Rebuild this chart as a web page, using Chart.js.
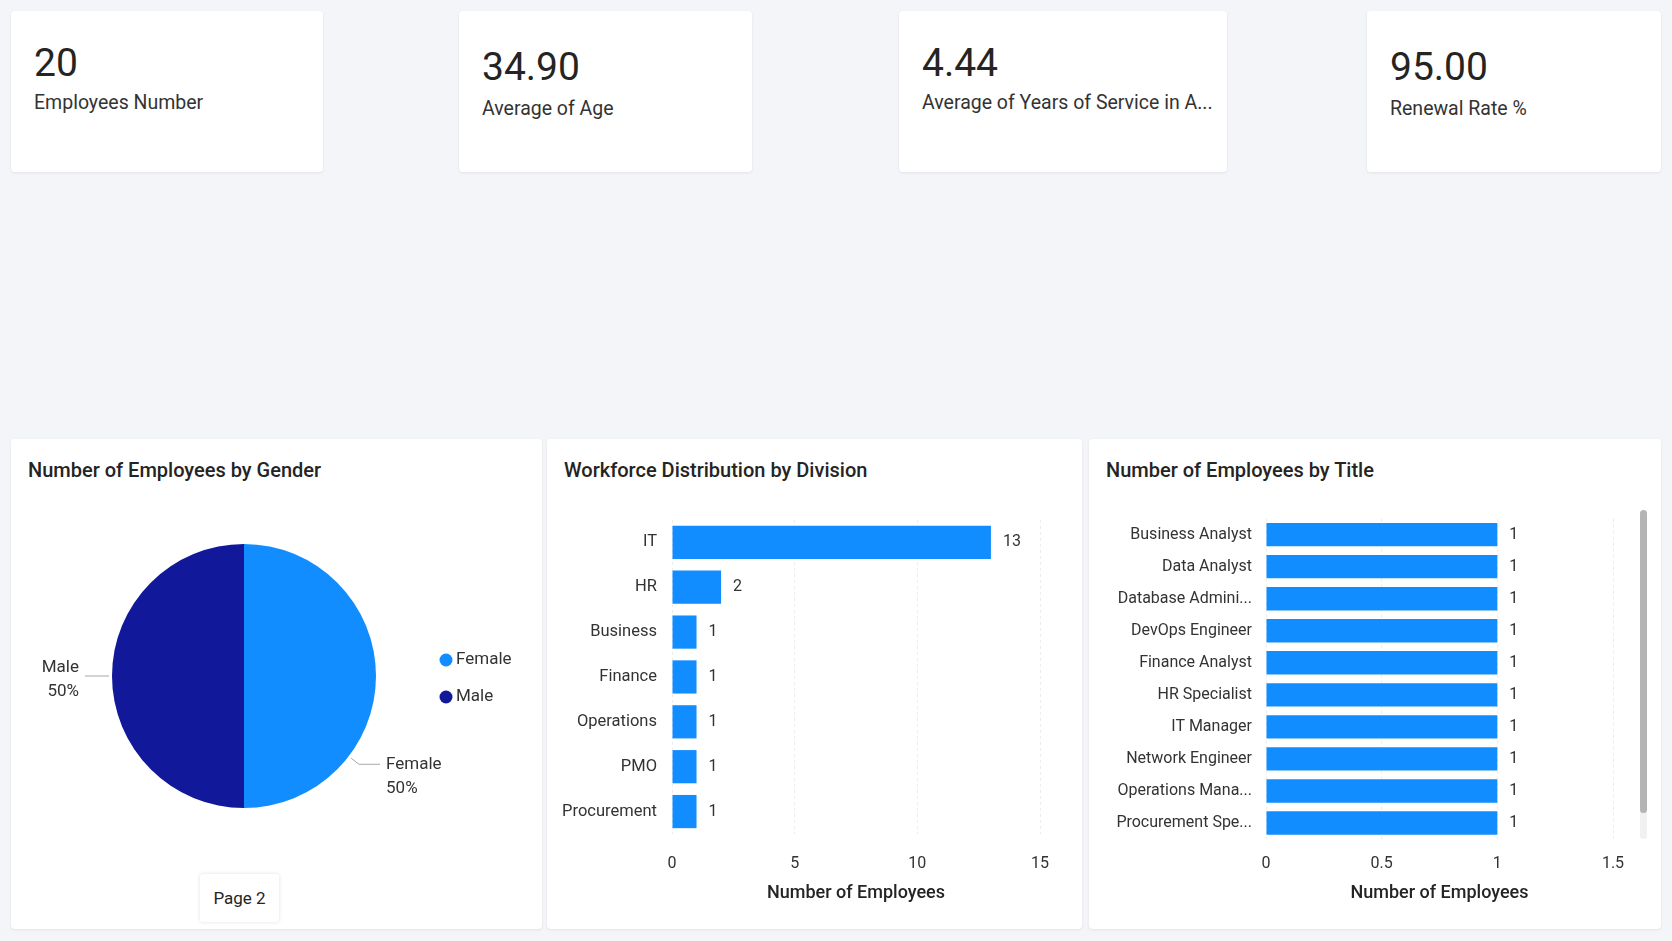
<!DOCTYPE html>
<html lang="en">
<head>
<meta charset="UTF-8" />
<title>HR Dashboard</title>
<script src="https://cdn.jsdelivr.net/npm/chart.js"></script>
<style>
    body {
        margin: 0;
        width: 1672px;
        height: 941px;
        background: #f3f5f9;
        font-family: Roboto, "Open Sans", sans-serif;
        color: #252423;
        position: relative;
        overflow: hidden;
    }
    .card {
        position: absolute;
        background: #fff;
        border-radius: 4px;
        box-shadow: 0 1px 3px rgba(0, 0, 0, 0.08);
    }
    .kpi-value {
        position: absolute;
        font-size: 39px;
        line-height: 40px;
        color: #252423;
    }
    .kpi-label {
        position: absolute;
        font-size: 19.5px;
        line-height: 22px;
        color: #333;
        white-space: nowrap;
    }
    .panel-title {
        position: absolute;
        left: 17px;
        top: 19px;
        font-size: 20px;
        font-weight: 500;
        color: #252423;
    }
    .chart-box {
        position: absolute;
    }
    .page-btn {
        position: absolute;
        left: 200px;
        top: 874px;
        width: 79px;
        height: 48px;
        background: #fff;
        box-shadow: 0 0 4px rgba(0, 0, 0, 0.12);
        border-radius: 3px;
        font-size: 17px;
        line-height: 48px;
        text-align: center;
        color: #252423;
    }
    .scroll-track {
        position: absolute;
        left: 1640px;
        top: 510px;
        width: 7px;
        height: 329px;
        border-radius: 4px;
        background: #f1f1f1;
    }
    .scroll-thumb {
        position: absolute;
        left: 1640px;
        top: 510px;
        width: 7px;
        height: 303px;
        border-radius: 4px;
        background: #b4b4b4;
    }
</style>
</head>
<body>

<div id="kpis"></div>

<div class="card" style="left:11px; top:439px; width:531px; height:490px;">
    <div class="panel-title">Number of Employees by Gender</div>
</div>
<div class="card" style="left:547px; top:439px; width:535px; height:490px;">
    <div class="panel-title">Workforce Distribution by Division</div>
</div>
<div class="card" style="left:1089px; top:439px; width:572px; height:490px;">
    <div class="panel-title">Number of Employees by Title</div>
</div>

<div class="chart-box" style="left:20px; top:490px; width:515px; height:372px;">
    <canvas id="genderChart"></canvas>
</div>
<div class="chart-box" style="left:557px; top:495px; width:518px; height:415px;">
    <canvas id="divisionChart"></canvas>
</div>
<div class="chart-box" style="left:1100px; top:495px; width:550px; height:415px;">
    <canvas id="titleChart"></canvas>
</div>

<div class="scroll-track"></div>
<div class="scroll-thumb"></div>
<div class="page-btn">Page 2</div>

<script>
    // kpi cards
    const kpiValues = [20, 34.9, 4.44, 95];
    const kpiDecimals = [0, 2, 2, 2];
    const kpiLabels = ["Employees Number", "Average of Age", "Average of Years of Service in A...", "Renewal Rate %"];

    // gender pie
    const genderLabels = ["Female", "Male"];
    const genderCounts = [10, 10];

    // division bars
    const divisionLabels = ["IT", "HR", "Business", "Finance", "Operations", "PMO", "Procurement"];
    const divisionCounts = [13, 2, 1, 1, 1, 1, 1];
    const divisionTicks = [0, 5, 10, 15];

    // title bars
    const titleLabels = ["Business Analyst", "Data Analyst", "Database Admini...", "DevOps Engineer", "Finance Analyst",
        "HR Specialist", "IT Manager", "Network Engineer", "Operations Mana...", "Procurement Spe..."];
    const titleCounts = [1, 1, 1, 1, 1, 1, 1, 1, 1, 1];
    const titleTicks = [0, 0.5, 1, 1.5];

    const BLUE = "#118dff";
    const NAVY = "#12189a";

    const cardBoxes = [
        { left: 11, width: 312, vTop: 43, lTop: 92 },
        { left: 459, width: 293, vTop: 47, lTop: 98 },
        { left: 899, width: 328, vTop: 43, lTop: 92 },
        { left: 1367, width: 294, vTop: 47, lTop: 98 }
    ];

    const kpiHolder = document.getElementById("kpis");
    kpiValues.forEach((v, i) => {
        const b = cardBoxes[i];
        const card = document.createElement("div");
        card.className = "card";
        card.style.cssText = `left:${b.left}px; top:11px; width:${b.width}px; height:161px;`;
        card.innerHTML = `<div class="kpi-value" style="left:23px; top:${b.vTop - 11}px;">${v.toFixed(kpiDecimals[i])}</div>
            <div class="kpi-label" style="left:23px; top:${b.lTop - 11}px;">${kpiLabels[i]}</div>`;
        kpiHolder.appendChild(card);
    });

    Chart.defaults.font.family = "Roboto, 'Open Sans', sans-serif";
    Chart.defaults.color = "#333";
    Chart.defaults.animation = false;

    // value labels at the end of each bar
    const barValueLabels = {
        id: "barValueLabels",
        afterDatasetsDraw(chart) {
            const ctx = chart.ctx;
            const meta = chart.getDatasetMeta(0);
            const values = chart.data.datasets[0].data;
            ctx.save();
            ctx.font = "16px Roboto, 'Open Sans', sans-serif";
            ctx.fillStyle = "#333";
            ctx.textAlign = "left";
            ctx.textBaseline = "middle";
            meta.data.forEach((bar, i) => {
                ctx.fillText(String(values[i]), bar.x + 12, bar.y);
            });
            ctx.restore();
        }
    };

    // pie outside labels and legend
    const pieExtras = {
        id: "pieExtras",
        afterDraw(chart, args, opts) {
            const ctx = chart.ctx;
            const meta = chart.getDatasetMeta(0);
            const data = chart.data.datasets[0].data;
            const colors = chart.data.datasets[0].backgroundColor;
            const total = data.reduce((a, b) => a + b, 0);
            ctx.save();
            ctx.font = "17px Roboto, 'Open Sans', sans-serif";
            ctx.textBaseline = "middle";

            meta.data.forEach((arc, i) => {
                const a = opts.angles[i] * Math.PI / 180;
                const r = arc.outerRadius;
                const cos = Math.cos(a), sin = Math.sin(a);
                const x0 = arc.x + (r + 3) * cos, y0 = arc.y + (r + 3) * sin;
                const x1 = arc.x + (r + 13) * cos, y1 = arc.y + (r + 13) * sin;
                const right = cos >= 0;
                const x2 = x1 + (right ? 21 : -14);
                ctx.strokeStyle = "#a8a8a8";
                ctx.lineWidth = 1;
                ctx.beginPath();
                ctx.moveTo(x0, y0);
                ctx.lineTo(x1, y1);
                ctx.lineTo(x2, y1);
                ctx.stroke();
                ctx.fillStyle = "#333";
                ctx.textAlign = right ? "left" : "right";
                const tx = x2 + (right ? 6 : -6);
                const up = right ? 0 : -8;
                ctx.fillText(chart.data.labels[i], tx, y1 + up);
                ctx.fillText(Math.round(data[i] / total * 100) + "%", tx, y1 + up + 24);
            });

            chart.data.labels.forEach((lab, i) => {
                const y = opts.legendY + i * 37;
                ctx.fillStyle = colors[i];
                ctx.beginPath();
                ctx.arc(opts.legendX, y, 6.5, 0, Math.PI * 2);
                ctx.fill();
                ctx.fillStyle = "#333";
                ctx.textAlign = "left";
                ctx.fillText(lab, opts.legendX + 10, y);
            });
            ctx.restore();
        }
    };

    new Chart(document.getElementById("genderChart"), {
        type: "pie",
        data: {
            labels: genderLabels,
            datasets: [{
                data: genderCounts,
                backgroundColor: [BLUE, NAVY],
                borderWidth: 0
            }]
        },
        options: {
            responsive: true,
            maintainAspectRatio: false,
            layout: { padding: { left: 92, right: 159, top: 52, bottom: 52 } },
            plugins: {
                legend: { display: false },
                tooltip: { enabled: false },
                pieExtras: { angles: [37.5, 180], legendX: 426, legendY: 170 }
            }
        },
        plugins: [pieExtras]
    });

    function barOptions(cfg) {
        return {
            indexAxis: "y",
            responsive: true,
            maintainAspectRatio: false,
            layout: { padding: { left: 0, right: cfg.padRight, top: cfg.padTop, bottom: 0 } },
            plugins: {
                legend: { display: false },
                tooltip: { enabled: false }
            },
            scales: {
                x: {
                    min: cfg.ticks[0],
                    max: cfg.ticks[cfg.ticks.length - 1],
                    afterBuildTicks: (scale) => {
                        scale.ticks = cfg.ticks.map((v) => ({ value: v }));
                    },
                    afterFit: (scale) => { scale.height = cfg.xHeight; },
                    grid: { color: "#ececec", drawTicks: false },
                    border: { display: false, dash: [3, 3] },
                    ticks: {
                        padding: cfg.tickPad,
                        color: "#333",
                        font: { size: 16 },
                        callback: (v) => String(v)
                    },
                    title: {
                        display: true,
                        text: "Number of Employees",
                        color: "#252423",
                        font: { size: 18, weight: "500" },
                        padding: { top: 0, bottom: 6 }
                    }
                },
                y: {
                    afterFit: (scale) => { scale.width = cfg.yWidth; },
                    grid: { display: false, drawTicks: false },
                    border: { display: false },
                    ticks: { padding: cfg.yPad, color: "#333", font: { size: cfg.ySize } }
                }
            }
        };
    }

    new Chart(document.getElementById("divisionChart"), {
        type: "bar",
        data: {
            labels: divisionLabels,
            datasets: [{
                data: divisionCounts,
                backgroundColor: BLUE,
                barPercentage: 0.74,
                categoryPercentage: 1
            }]
        },
        options: barOptions({ padRight: 35, padTop: 16, xHeight: 76, yWidth: 115, tickPad: 20, yPad: 15, ySize: 16.5, ticks: divisionTicks }),
        plugins: [barValueLabels]
    });

    new Chart(document.getElementById("titleChart"), {
        type: "bar",
        data: {
            labels: titleLabels,
            datasets: [{
                data: titleCounts,
                backgroundColor: BLUE,
                barPercentage: 0.73,
                categoryPercentage: 1
            }]
        },
        options: barOptions({ padRight: 37, padTop: 15, xHeight: 71, yWidth: 166, tickPad: 15, yPad: 14, ySize: 16, ticks: titleTicks }),
        plugins: [barValueLabels]
    });
</script>
</body>
</html>
